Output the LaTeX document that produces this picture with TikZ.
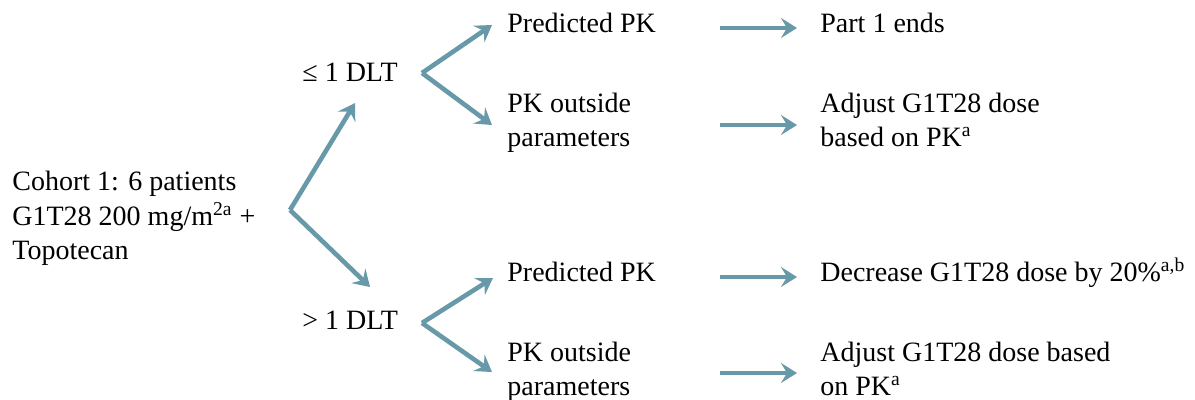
\documentclass[tikz,border=0pt]{standalone}
\usepackage{fontspec}
\setmainfont{Liberation Serif}
\usetikzlibrary{arrows.meta}

\definecolor{arrowblue}{RGB}{104,153,168}

\tikzset{
  txt/.style={inner sep=0pt, anchor=base west, align=left,
    font=\fontsize{14}{17.25}\selectfont},
  arr/.style={draw=arrowblue, line width=2.3pt,
    -{Stealth[length=8pt, width=10pt, inset=3pt]}},
}

\begin{document}
\begin{tikzpicture}[x=0.5pt, y=-0.5pt]

  \useasboundingbox (0,0) rectangle (1195,400);

  \newcommand\XM{507};
  \newcommand\XR{820};

  % start (base = last line)
  \node[txt] (cohort) at (12,260)
    {Cohort 1: 6 patients\\G1T28 200 mg/m\textsuperscript{2a} +\\Topotecan};

  % DLT outcome
  \node[txt] (le) at (302,82) {≤ 1 DLT};
  \node[txt] (gt) at (302,330) {> 1 DLT};

  % PK outcome
  \node[txt] (pk1) at (\XM,33) {Predicted PK};
  \node[txt] (po1) at (\XM,147) {PK outside\\parameters};
  \node[txt] (pk2) at (\XM,282) {Predicted PK};
  \node[txt] (po2) at (\XM,396) {PK outside\\parameters};

  % action
  \node[txt] (end1) at (\XR,33) {Part 1 ends};
  \node[txt] (adj1) at (\XR,147) {Adjust G1T28 dose\\based on PK\textsuperscript{a}};
  \node[txt] (dec2) at (\XR,282) {Decrease G1T28 dose by 20\%\textsuperscript{a,b}};
  \node[txt] (adj2) at (\XR,396) {Adjust G1T28 dose based\\on PK\textsuperscript{a}};

  % forks
  \coordinate (fork0) at (290,210);
  \coordinate (fork1) at (422,73);
  \coordinate (fork2) at (422,323);

  \coordinate (le-in) at (355,103);
  \coordinate (gt-in) at (370,287);
  \coordinate (pk1-in) at (492,25);
  \coordinate (po1-in) at (492,125);
  \coordinate (pk2-in) at (493,278);
  \coordinate (po2-in) at (492,372);

  \draw[arr] (fork0) -- (le-in);
  \draw[arr] (fork0) -- (gt-in);
  \draw[arr] (fork1) -- (pk1-in);
  \draw[arr] (fork1) -- (po1-in);
  \draw[arr] (fork2) -- (pk2-in);
  \draw[arr] (fork2) -- (po2-in);

  % to the action
  \coordinate (r1-out) at (720,28);
  \coordinate (r1-in) at (797,28);
  \coordinate (r2-out) at (720,125);
  \coordinate (r2-in) at (797,125);
  \coordinate (r3-out) at (720,277);
  \coordinate (r3-in) at (797,277);
  \coordinate (r4-out) at (720,373);
  \coordinate (r4-in) at (797,373);

  \draw[arr] (r1-out) -- (r1-in);
  \draw[arr] (r2-out) -- (r2-in);
  \draw[arr] (r3-out) -- (r3-in);
  \draw[arr] (r4-out) -- (r4-in);

\end{tikzpicture}
\end{document}
